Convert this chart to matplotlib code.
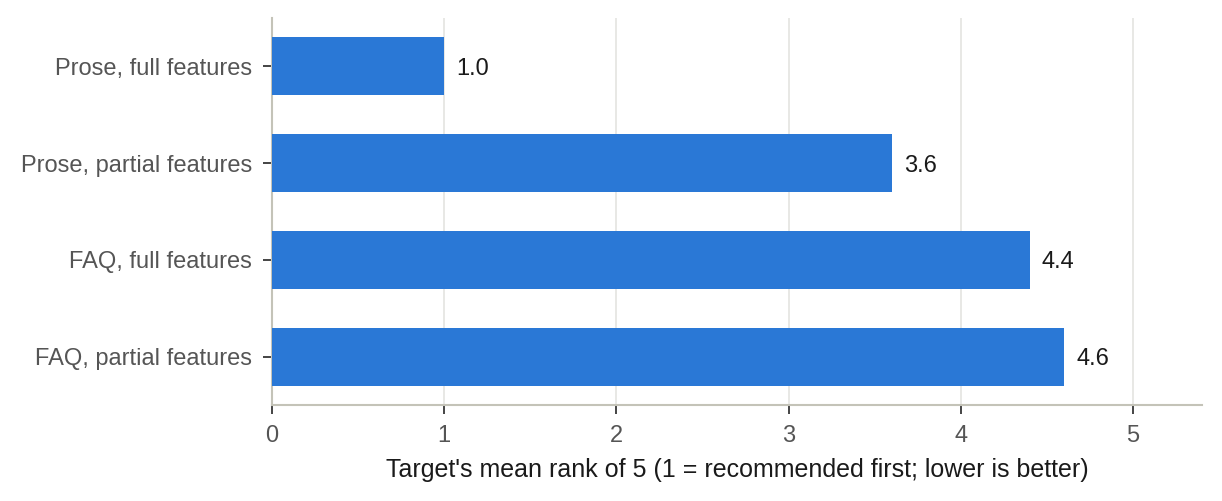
import matplotlib
matplotlib.use("Agg")
import matplotlib.pyplot as plt

# data, top to bottom as drawn
labels = ["Prose, full features", "Prose, partial features",
          "FAQ, full features", "FAQ, partial features"]
mean_rank = [1.0, 3.6, 4.4, 4.6]
x_ticks = [0, 1, 2, 3, 4, 5]

plt.rcParams["font.family"] = ["Liberation Sans", "DejaVu Sans"]

fig = plt.figure(figsize=(12.22, 5.01), dpi=100)
ax = fig.add_axes([0.2226, 0.1916, 0.761, 0.7724])

ypos = list(range(len(labels)))
ax.barh(ypos, mean_rank, height=0.6, color="#2a78d6", zorder=3)
for y, v in zip(ypos, mean_rank):
    ax.text(v + 0.07, y, f"{v:.1f}", va="center_baseline", ha="left",
            fontsize=17, color="#1a1a1a")

ax.set_yticks(ypos)
ax.set_yticklabels(labels)
ax.set_ylim(len(labels) - 0.5, -0.5)
ax.set_xlim(0, 5.4)
ax.set_xticks(x_ticks)
ax.set_xlabel("Target's mean rank of 5 (1 = recommended first; lower is better)",
              fontsize=18, color="#1a1a1a", labelpad=8)

ax.grid(axis="x", color="#e4e4e0", linewidth=1.2, zorder=0)
for s in ["top", "right"]:
    ax.spines[s].set_visible(False)
for s in ["left", "bottom"]:
    ax.spines[s].set_color("#c4c3b8")
    ax.spines[s].set_linewidth(1.5)
ax.tick_params(axis="both", colors="#444444", labelsize=17, length=6.5,
               width=1.4, labelcolor="#555555", pad=8)

plt.savefig("out.png", dpi=100)
